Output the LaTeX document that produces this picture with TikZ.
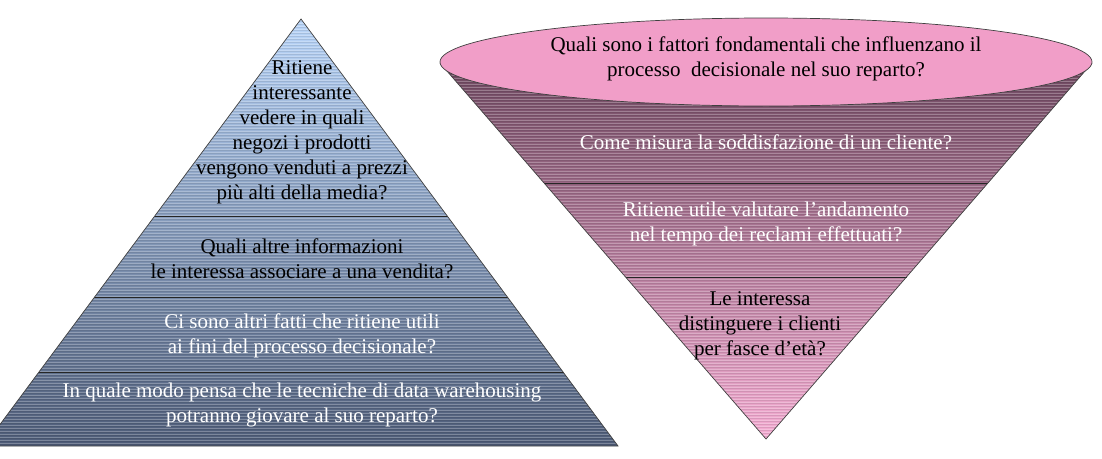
\documentclass[tikz,border=0pt]{standalone}
\usepackage{fontspec}
\setmainfont{Liberation Serif}
\definecolor{celesteA}{RGB}{186,214,250}
\definecolor{celesteB}{RGB}{140,168,208}
\definecolor{celesteC}{RGB}{78,92,120}
\definecolor{malvaA}{RGB}{110,72,96}
\definecolor{malvaB}{RGB}{172,106,142}
\definecolor{malvaC}{RGB}{246,174,212}
\definecolor{rosa}{RGB}{241,158,200}
\begin{document}
\begin{tikzpicture}[x=1pt,y=-1pt,domanda/.style={align=center,font=\fontsize{21}{25}\selectfont},chiara/.style={domanda,text=white},scura/.style={domanda,text=black},bordo/.style={draw=black!75,line width=0.7pt},divisore/.style={draw=black!85,line width=1pt},riga/.style={white,opacity=0.25,line width=1pt},rigascura/.style={black,opacity=0.09,line width=1pt}]
\useasboundingbox (0,0) rectangle (1102,458);
% piramide
\coordinate (vertice) at (301,19);
\coordinate (baseS) at (-16,446);
\coordinate (baseD) at (618,446);
\begin{scope}
\clip (0,0) rectangle (1102,458);
\shade[top color=celesteA,middle color=celesteB,bottom color=celesteC] (vertice) -- (baseD) -- (baseS) -- cycle;
\clip (vertice) -- (baseD) -- (baseS) -- cycle;
\foreach \y in {20,23,...,446} \draw[riga] (-20,\y) -- (640,\y);
\foreach \y in {21.5,24.5,...,446} \draw[rigascura] (-20,\y) -- (640,\y);
\end{scope}
\draw[divisore] (154.5,216) -- (447.5,216);
\draw[divisore] (94.3,297) -- (507.7,297);
\draw[divisore] (38.5,372) -- (563.5,372);
\draw[bordo] (baseS) -- (vertice) -- (baseD) -- cycle;
\node[scura] (ritiene) at (302,132) {Ritiene\\interessante\\vedere in quali\\negozi i prodotti\\vengono venduti a prezzi\\più alti della media?};
\node[scura] (altre) at (302,259) {Quali altre informazioni\\le interessa associare a una vendita?};
\node[chiara] (fatti) at (302,336) {Ci sono altri fatti che ritiene utili\\ai fini del processo decisionale?};
\node[chiara] (tecniche) at (302,405) {In quale modo pensa che le tecniche di data warehousing\\potranno giovare al suo reparto?};
% imbuto
\coordinate (punta) at (766,439);
\coordinate (bordoS) at (440,63);
\coordinate (bordoD) at (1092,63);
\begin{scope}
\shade[top color=malvaA,middle color=malvaB,bottom color=malvaC] (bordoS) -- (bordoD) -- (punta) -- cycle;
\clip (bordoS) -- (bordoD) -- (punta) -- cycle;
\foreach \y in {63,66,...,440} \draw[riga] (430,\y) -- (1100,\y);
\foreach \y in {64.5,67.5,...,440} \draw[rigascura] (430,\y) -- (1100,\y);
\end{scope}
\draw[divisore] (544,183) -- (988,183);
\draw[divisore] (625.5,277) -- (906.5,277);
\draw[bordo] (bordoS) -- (punta) -- (bordoD);
\draw[bordo,fill=rosa] (766,62) ellipse [x radius=326,y radius=44];
\node[scura] (fattori) at (766,59) {Quali sono i fattori fondamentali che influenzano il\\processo\ \ decisionale nel suo reparto?};
\node[chiara] (cliente) at (766,142) {Come misura la soddisfazione di un cliente?};
\node[chiara] (reclami) at (766,224) {Ritiene utile valutare l’andamento\\nel tempo dei reclami effettuati?};
\node[scura] (eta) at (760,326) {Le interessa\\distinguere i clienti\\per fasce d’età?};
\end{tikzpicture}
\end{document}
